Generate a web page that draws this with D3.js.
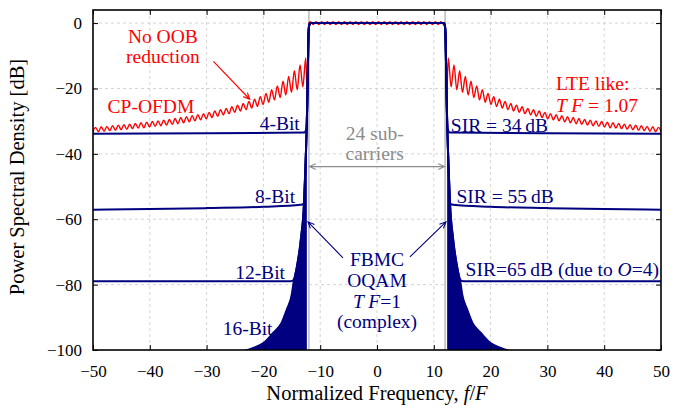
<!DOCTYPE html>
<html>
<head>
<meta charset="utf-8">
<script src="https://cdn.jsdelivr.net/npm/d3@7"></script>
<style>
  body { margin: 0; background: #fff; }
  svg, svg text, svg g { font-family: "Liberation Serif", "DejaVu Serif", serif !important; }
  svg text { font-size: 19.5px; }
  svg text.title { font-size: 20.5px; }
  .tick text { font-size: 17px !important; }
</style>
</head>
<body>
<div id="chart"></div>
<script>
// Data
const xTicks = [-50, -40, -30, -20, -10, 0, 10, 20, 30, 40, 50]
const yTicks = [-100, -80, -60, -40, -20, 0]
const bandEdge = 12 // 24 subcarriers -> band edges at +-12

// CP-OFDM (red): right tail sampled every 0.5 starting at f = 12.55, mirrored to the left
const ofdmTailDb = [
  -10.7, -19.5, -12.8, -20.4, -14.6, -21.2, -16.3, -22.0, -17.8, -22.8,
  -19.2, -23.5, -20.4, -24.2, -21.5, -24.9, -22.5, -25.5, -23.3, -26.0,
  -24.0, -26.5, -24.6, -26.9, -25.1, -27.3, -25.6, -27.7, -26.1, -28.1,
  -26.5, -28.5, -26.9, -28.9, -27.3, -29.3, -27.7, -29.6, -28.0, -29.9,
  -28.3, -30.2, -28.6, -30.5, -28.9, -30.8, -29.2, -31.0, -29.5, -31.2,
  -29.7, -31.4, -29.9, -31.6, -30.1, -31.8, -30.3, -32.0, -30.5, -32.1,
  -30.7, -32.3, -30.9, -32.5, -31.1, -32.6, -31.2, -32.8, -31.4, -32.9,
  -31.6, -33.1, -31.7, -33.2, -31.9, -33.4
]
// in-band ripple, f = -11.75 ... 11.75 every 0.5
const ofdmInbandDb = [
  0.45, -0.45, 0.45, -0.45, 0.45, -0.45, 0.45, -0.45, 0.45, -0.45, 0.45, -0.45,
  0.45, -0.45, 0.45, -0.45, 0.45, -0.45, 0.45, -0.45, 0.45, -0.45, 0.45, -0.45,
  0.45, -0.45, 0.45, -0.45, 0.45, -0.45, 0.45, -0.45, 0.45, -0.45, 0.45, -0.45,
  0.45, -0.45, 0.45, -0.45, 0.45, -0.45, 0.45, -0.45, 0.45, -0.45, 0.45, -0.45
]
const ofdmEdgeX = [12.0, 12.25]
const ofdmEdgeDb = [0, -22]

// FBMC (blue): band edge / 16-bit envelope, right side, mirrored to the left
const fbmcEdgeX = [11.75, 11.95, 12.05, 12.15, 12.25, 12.35, 12.6, 12.85, 13.05, 13.3, 13.6, 14.1,
  14.7, 15.0, 15.9, 16.8, 18.3, 20.0, 22.0, 22.8, 26.0, 35.0, 51.0]
const fbmcEdgeDb = [0, -0.8, -3, -12, -22, -30, -44, -55, -60.5, -64.5, -69, -74.5,
  -79.5, -83, -87.7, -91.7, -94.8, -97.9, -99.5, -100, -101.5, -104, -106]

// quantisation floors (right side, mirrored)
const floor4X = [12.42, 12.8, 30, 51]
const floor4Db = [-32.2, -33.5, -33.7, -33.9]
const floor8X = [12.95, 13.4, 20, 30, 40, 51]
const floor8Db = [-55.3, -55.6, -56.2, -56.6, -56.9, -57.1]
const floor12X = [14.55, 14.9, 15.5, 30, 51]
const floor12Db = [-78.2, -78.85, -79.0, -79.0, -79.0]

const width = 679, height = 408
const margin = { left: 93, right: 18, top: 10, bottom: 58 }

const svg = d3.select('#chart').append('svg')
  .attr('width', width)
  .attr('height', height)
  .attr('font-family', '"Liberation Serif", "DejaVu Serif", serif')

const x = d3.scaleLinear().domain([-50, 50]).range([margin.left, width - margin.right])
const y = d3.scaleLinear().domain([-100, 4]).range([height - margin.bottom, margin.top])

const red = '#ff0000', navy = '#000080', gray = '#8c8c8c'

svg.append('clipPath').attr('id', 'plot')
  .append('rect')
  .attr('x', x(-50)).attr('y', y(4))
  .attr('width', x(50) - x(-50)).attr('height', y(-100) - y(4))

// grid
const grid = svg.append('g').attr('stroke', '#d4d4d4').attr('stroke-dasharray', '3,3')
grid.selectAll('.gx').data(xTicks.slice(1, -1)).join('line')
  .attr('x1', d => x(d)).attr('x2', d => x(d))
  .attr('y1', y(4)).attr('y2', y(-100))
grid.selectAll('.gy').data(yTicks.slice(1)).join('line')
  .attr('x1', x(-50)).attr('x2', x(50))
  .attr('y1', d => y(d)).attr('y2', d => y(d))

// band edges
svg.append('g').selectAll('line').data([-bandEdge, bandEdge]).join('line')
  .attr('x1', d => x(d)).attr('x2', d => x(d))
  .attr('y1', y(4)).attr('y2', y(-100))
  .attr('stroke', '#c4c4c4').attr('stroke-width', 1.8)

const zip = (xs, ys) => xs.map((v, i) => [v, ys[i]])
const mirror = pts => pts.map(([a, b]) => [-a, b]).reverse()

const plot = svg.append('g').attr('clip-path', 'url(#plot)')
const smooth = d3.line().x(d => x(d[0])).y(d => y(d[1])).curve(d3.curveMonotoneX)

// CP-OFDM
const tailX = ofdmTailDb.map((_, i) => 12.55 + 0.5 * i)
const inbandX = ofdmInbandDb.map((_, i) => -11.75 + 0.5 * i)
const ofdmRight = [...zip(ofdmEdgeX, ofdmEdgeDb), ...zip(tailX, ofdmTailDb)]
const ofdm = [...mirror(ofdmRight), ...zip(inbandX, ofdmInbandDb), ...ofdmRight]
plot.append('path')
  .attr('d', smooth(ofdm))
  .attr('fill', 'none').attr('stroke', red).attr('stroke-width', 1.4)

// FBMC 16-bit filled envelope
const edge = zip(fbmcEdgeX, fbmcEdgeDb)
const envRight = edge.filter(p => p[0] >= 12.35)
const area = d3.area().x(d => x(d[0])).y0(y(-110)).y1(d => y(d[1]))
plot.selectAll('.env').data([mirror(envRight), envRight]).join('path')
  .attr('d', area)
  .attr('fill', navy)

// FBMC lines
const floors = [[floor12X, floor12Db], [floor8X, floor8Db], [floor4X, floor4Db]]
const curves = [edge].concat(floors.map(([fx, fd]) =>
  [...edge.filter(p => p[0] < fx[0]), ...zip(fx, fd)]))
plot.selectAll('.fbmc').data(curves).join('path')
  .attr('d', r => smooth([...mirror(r), ...r]))
  .attr('fill', 'none').attr('stroke', navy).attr('stroke-width', 2)

// Axes (ticks inward on all four sides)
const xAxis = d3.axisBottom(x).tickValues(xTicks).tickSize(-5).tickSizeOuter(0).tickPadding(15)
const yAxis = d3.axisLeft(y).tickValues(yTicks).tickSize(-5).tickSizeOuter(0).tickPadding(11)
svg.append('g').attr('transform', `translate(0, ${y(-100)})`).call(xAxis)
svg.append('g').attr('transform', `translate(${x(-50)}, 0)`).call(yAxis)
svg.append('g').attr('transform', `translate(0, ${y(4)})`)
  .call(d3.axisTop(x).tickValues(xTicks).tickSize(-5).tickSizeOuter(0).tickFormat(''))
svg.append('g').attr('transform', `translate(${x(50)}, 0)`)
  .call(d3.axisRight(y).tickValues(yTicks).tickSize(-5).tickSizeOuter(0).tickFormat(''))
svg.selectAll('.domain').remove()
svg.selectAll('.tick line').attr('stroke', '#000')
svg.selectAll('.tick text').attr('fill', '#000')
  .attr('font-family', '"Liberation Serif", "DejaVu Serif", serif')
  .attr('font-size', 17)

svg.append('rect')
  .attr('x', x(-50)).attr('y', y(4))
  .attr('width', x(50) - x(-50)).attr('height', y(-100) - y(4))
  .attr('fill', 'none').attr('stroke', '#000').attr('stroke-width', 1.6)

// axis titles
svg.append('text')
  .attr('class', 'title')
  .attr('x', (x(-50) + x(50)) / 2).attr('y', 400)
  .attr('text-anchor', 'middle')
  .html('Normalized Frequency, <tspan font-style="italic">f</tspan>/<tspan font-style="italic">F</tspan>')
svg.append('text')
  .attr('class', 'title')
  .attr('transform', `translate(24, ${(y(4) + y(-100)) / 2 - 3}) rotate(-90)`)
  .attr('text-anchor', 'middle')
  .text('Power Spectral Density [dB]')

// annotations
function label(fx, fy, html, color, anchor) {
  svg.append('text')
    .attr('x', x(fx)).attr('y', y(fy))
    .attr('fill', color)
    .attr('text-anchor', anchor || 'start')
    .html(html)
}
function arrow(f1, d1, f2, d2, color, both) {
  const x1 = x(f1), y1 = y(d1), x2 = x(f2), y2 = y(d2)
  const head = (px, py, a) => {
    const L = 7, t = 0.42
    return `M${px - L * Math.cos(a - t)},${py - L * Math.sin(a - t)}L${px},${py}` +
      `L${px - L * Math.cos(a + t)},${py - L * Math.sin(a + t)}`
  }
  const a = Math.atan2(y2 - y1, x2 - x1)
  let d = `M${x1},${y1}L${x2},${y2}` + head(x2, y2, a)
  if (both) d += head(x1, y1, a + Math.PI)
  svg.append('path').attr('d', d)
    .attr('fill', 'none').attr('stroke', color).attr('stroke-width', 1.1)
}

label(-37.7, -6.1, 'No OOB', red, 'middle')
label(-37.7, -12.2, 'reduction', red, 'middle')
label(-39.8, -27.5, 'CP-OFDM', red, 'middle')
arrow(-28.8, -11.75, -22.4, -23.3, red)
label(31.5, -20.6, 'LTE like:', red)
label(31.5, -27.1, '<tspan font-style="italic">T F</tspan> = 1.07', red)

label(-13.6, -32.7, '4-Bit', navy, 'end')
label(-14.4, -54.9, '8-Bit', navy, 'end')
label(-16.2, -78.3, '12-Bit', navy, 'end')
label(-18.4, -95.4, '16-Bit', navy, 'end')
label(13.0, -33.2, 'SIR = 34\u2009dB', navy)
label(14.0, -55.1, 'SIR = 55\u2009dB', navy)
label(15.6, -77.5, 'SIR=65\u2009dB (due to <tspan font-style="italic">O</tspan>=4)', navy)

label(-0.4, -35.7, '24 sub-', gray, 'middle')
label(-0.4, -41.8, 'carriers', gray, 'middle')
arrow(-11.9, -43.9, 11.9, -43.9, gray, true)

label(0, -74.2, 'FBMC', navy, 'middle')
label(0, -80.8, 'OQAM', navy, 'middle')
label(0, -87.2, '<tspan font-style="italic">T F</tspan>=1', navy, 'middle')
label(0, -93.4, '(complex)', navy, 'middle')
arrow(-6.0, -71.8, -12.15, -60.8, navy)
arrow(5.8, -71.5, 12.15, -60.8, navy)
</script>
</body>
</html>
